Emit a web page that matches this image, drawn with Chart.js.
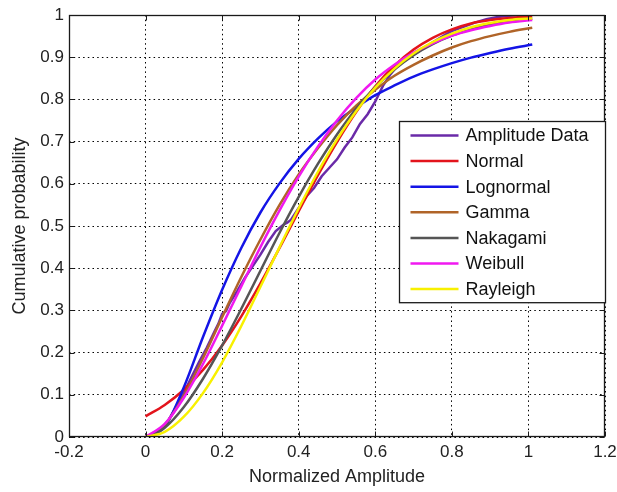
<!DOCTYPE html>
<html>
<head>
<meta charset="utf-8">
<script src="https://cdn.jsdelivr.net/npm/chart.js@4"></script>
<style>
  html, body { margin: 0; padding: 0; background: #fff; }
  #wrap { width: 617px; height: 492px; }
</style>
</head>
<body>
<div id="wrap"><canvas id="cdf" width="617" height="492"></canvas></div>
<script>
// Empirical CDF of the normalized amplitude samples
const dataX = [0.01,0.02,0.04,0.06,0.08,0.10,0.12,0.14,0.16,0.18,0.19,0.20,0.21,0.22,0.24,0.26,0.28,0.30,0.32,0.34,0.36,0.37,0.38,0.40,0.42,0.44,0.46,0.48,0.50,0.52,0.54,0.56,0.58,0.60,0.62,0.64,0.66,0.68,0.70,0.72,0.75,0.78,0.80,0.83,0.86,0.89,0.92,0.95,0.98,1.00];
const dataY = [0,0.004,0.018,0.040,0.072,0.105,0.142,0.178,0.212,0.250,0.268,0.292,0.298,0.318,0.347,0.378,0.405,0.432,0.462,0.488,0.503,0.508,0.515,0.543,0.570,0.590,0.618,0.638,0.658,0.686,0.710,0.742,0.765,0.795,0.832,0.860,0.882,0.895,0.906,0.918,0.935,0.952,0.962,0.972,0.982,0.990,0.995,0.998,1.000,1.000];

// Fitted distribution CDFs, sampled on a common amplitude grid
const fitX = [0,0.05,0.1,0.15,0.2,0.25,0.3,0.35,0.4,0.45,0.5,0.55,0.6,0.65,0.7,0.75,0.8,0.85,0.9,0.95,1.01];
const normalCdf    = [0.049,0.076,0.112,0.159,0.217,0.286,0.364,0.448,0.535,0.620,0.699,0.770,0.831,0.880,0.918,0.946,0.966,0.980,0.988,0.993,0.997];
const lognormalCdf = [0,0.024,0.118,0.237,0.349,0.448,0.532,0.601,0.659,0.707,0.748,0.781,0.810,0.833,0.854,0.871,0.886,0.899,0.910,0.920,0.930];
const gammaCdf     = [0,0.029,0.098,0.187,0.284,0.379,0.468,0.550,0.622,0.684,0.739,0.785,0.823,0.856,0.882,0.904,0.923,0.938,0.950,0.960,0.970];
const nakagamiCdf  = [0,0.022,0.071,0.138,0.217,0.304,0.394,0.484,0.569,0.647,0.717,0.778,0.829,0.871,0.905,0.931,0.951,0.966,0.977,0.985,0.991];
const weibullCdf   = [0,0.031,0.093,0.173,0.264,0.357,0.450,0.537,0.617,0.688,0.750,0.803,0.847,0.882,0.911,0.933,0.951,0.964,0.974,0.982,0.988];
const rayleighCdf  = [0,0.012,0.048,0.104,0.177,0.263,0.356,0.450,0.542,0.628,0.705,0.772,0.828,0.873,0.909,0.936,0.956,0.971,0.981,0.988,0.992];

const seriesNames  = ['Amplitude Data','Normal','Lognormal','Gamma','Nakagami','Weibull','Rayleigh'];
const seriesColors = ['#6a2aa8','#e3141c','#1414e6','#b06428','#555555','#f019f0','#f8f000'];

const xTickLabels = ['-0.2','0','0.2','0.4','0.6','0.8','1','1.2'];
const yTickLabels = ['0','0.1','0.2','0.3','0.4','0.5','0.6','0.7','0.8','0.9','1'];

const FONT = '"Liberation Sans", Arial, Helvetica, sans-serif';

function pts(xs, ys) { return xs.map((x, i) => ({ x: x, y: ys[i] })); }

const seriesValues = [pts(dataX, dataY), pts(fitX, normalCdf), pts(fitX, lognormalCdf),
  pts(fitX, gammaCdf), pts(fitX, nakagamiCdf), pts(fitX, weibullCdf), pts(fitX, rayleighCdf)];

const datasets = seriesValues.map((d, i) => ({
  label: seriesNames[i],
  data: d,
  borderColor: seriesColors[i],
  backgroundColor: seriesColors[i],
  borderWidth: 2.5,
  pointRadius: 0,
  fill: false,
  tension: 0,
  cubicInterpolationMode: i === 0 ? 'default' : 'monotone',
  order: seriesNames.length - i
}));

// Axes box, inward tick marks and the boxed legend inside the plot
const axesBox = {
  id: 'axesBox',
  afterDraw(chart) {
    const { ctx, chartArea: a, scales: { x, y } } = chart;
    ctx.save();
    ctx.strokeStyle = '#1a1a1a';
    ctx.lineWidth = 1;
    const L = Math.round(a.left) + 0.5, R = Math.round(a.right) - 0.5;
    const T = Math.round(a.top) + 0.5, B = Math.round(a.bottom) - 0.5;
    ctx.beginPath();
    x.ticks.forEach(t => {
      const px = Math.round(x.getPixelForValue(t.value)) + 0.5;
      ctx.moveTo(px, B); ctx.lineTo(px, B - 5);
      ctx.moveTo(px, T); ctx.lineTo(px, T + 5);
    });
    y.ticks.forEach(t => {
      const py = Math.round(y.getPixelForValue(t.value)) + 0.5;
      ctx.moveTo(L, py); ctx.lineTo(L + 5, py);
      ctx.moveTo(R, py); ctx.lineTo(R - 5, py);
    });
    ctx.stroke();
    ctx.lineWidth = 1.3;
    ctx.strokeRect(L, T, R - L, B - T);

    // legend
    const w = 206, rowH = 25.6;
    const lx = Math.round(a.right) - w + 0.5, ly = Math.round(a.top) + 106.5;
    const h = rowH * seriesNames.length + 2;
    ctx.fillStyle = '#fff';
    ctx.fillRect(lx, ly, w, h);
    ctx.strokeStyle = '#1a1a1a';
    ctx.lineWidth = 1.3;
    ctx.strokeRect(lx, ly, w, h);
    ctx.font = '18px ' + FONT;
    ctx.textBaseline = 'middle';
    ctx.textAlign = 'left';
    seriesNames.forEach((name, i) => {
      const cy = ly + 14 + i * rowH;
      ctx.strokeStyle = seriesColors[i];
      ctx.lineWidth = 2.5;
      ctx.beginPath();
      ctx.moveTo(lx + 11, cy); ctx.lineTo(lx + 59, cy);
      ctx.stroke();
      ctx.fillStyle = '#111';
      ctx.fillText(name, lx + 66, cy + 1);
    });
    ctx.restore();
  }
};

new Chart(document.getElementById('cdf'), {
  type: 'line',
  data: { datasets: datasets },
  options: {
    responsive: false,
    animation: false,
    devicePixelRatio: 1,
    layout: { padding: { left: 0, right: 12, top: 15, bottom: 0 } },
    plugins: { legend: { display: false }, tooltip: { enabled: false } },
    scales: {
      x: {
        type: 'linear',
        min: -0.2, max: 1.2,
        afterFit: s => { s.height = 55; s.paddingLeft = 0; s.paddingRight = 0; },
        ticks: {
          stepSize: 0.2, autoSkip: false, maxRotation: 0, padding: 5,
          color: '#222', font: { family: FONT, size: 17 },
          callback: (v, i) => xTickLabels[i]
        },
        grid: { color: '#000', lineWidth: 1, drawTicks: false },
        border: { display: false, dash: [1.5, 3.2] },
        title: {
          display: true, text: 'Normalized Amplitude', color: '#222',
          font: { family: FONT, size: 18 }, padding: { top: 4, bottom: 4 }
        }
      },
      y: {
        type: 'linear',
        min: 0, max: 1,
        afterFit: s => { s.width = 69; s.paddingTop = 0; s.paddingBottom = 0; },
        ticks: {
          stepSize: 0.1, autoSkip: false, padding: 5,
          color: '#222', font: { family: FONT, size: 17 },
          callback: (v, i) => yTickLabels[i]
        },
        grid: { color: '#000', lineWidth: 1, drawTicks: false },
        border: { display: false, dash: [1.5, 3.2] },
        title: {
          display: true, text: 'Cumulative probability', color: '#222',
          font: { family: FONT, size: 18 }, padding: { top: 9, bottom: 9 }
        }
      }
    }
  },
  plugins: [axesBox]
});
</script>
</body>
</html>
